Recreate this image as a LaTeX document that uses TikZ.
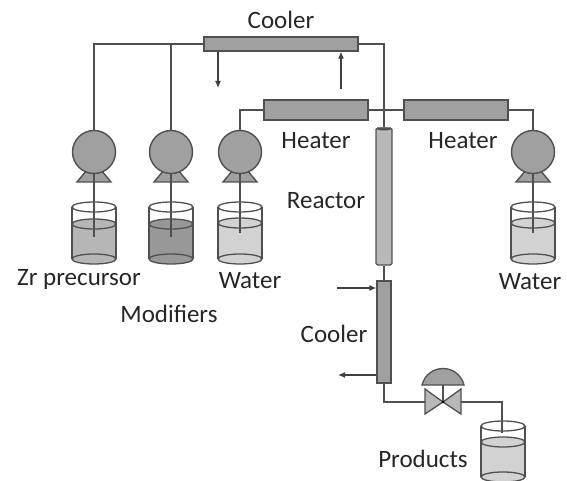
\documentclass[tikz,border=0pt]{standalone}
\usepackage{fontspec}
\setmainfont{Carlito}
\definecolor{pipegray}{HTML}{505050}
\definecolor{unitgray}{HTML}{A0A0A0}
\definecolor{reactorgray}{HTML}{B8B8B8}
\definecolor{liquidA}{HTML}{B6B6B6}
\definecolor{liquidB}{HTML}{989898}
\definecolor{liquidC}{HTML}{D2D2D2}
\tikzset{
  pipe/.style={draw=pipegray, line width=1.4pt},
  flow/.style={draw=black!75, line width=1.1pt, -{Latex[length=7pt,width=6pt]}},
  unit/.style={draw=pipegray, line width=1.4pt, fill=unitgray, inner sep=0pt},
  pumphead/.style={draw=pipegray, line width=1.4pt, fill=unitgray, circle, inner sep=0pt, minimum size=43pt},
  wall/.style={draw=pipegray, line width=1.3pt},
  label/.style={font=\fontsize{25}{25}\selectfont, text=black!85, inner sep=0pt}
}
\usetikzlibrary{arrows.meta}

\begin{document}
\begin{tikzpicture}[x=1pt, y=-1pt]
  \useasboundingbox (0,0) rectangle (567,481);

  % feed lines: pump, x, level, tube end, liquid
  \foreach \n/\x/\lev/\tube/\liq in {1/94/224/237/liquidA, 2/171/224/237/liquidB, 3/240/223/233/liquidC, 4/533/223/233/liquidC}{
    \fill[\liq] (\x-22,\lev) rectangle (\x+22,259);
    \draw[wall, fill=\liq] (\x,259) ellipse [x radius=22pt, y radius=5pt];
    \draw[wall, fill=\liq] (\x,\lev) ellipse [x radius=22pt, y radius=5pt];
    \draw[wall] (\x,207) ellipse [x radius=22pt, y radius=5pt];
    \draw[wall] (\x-22,207) -- (\x-22,259);
    \draw[wall] (\x+22,207) -- (\x+22,259);
    \draw[unit] (\x-17,182) -- (\x-7,170) -- (\x+7,170) -- (\x+17,182) -- cycle;
    \node[pumphead] (pump\n) at (\x,152) {};
    \coordinate (tube\n) at (\x,\tube);
    \draw[pipe] (pump\n.south) -- (tube\n);
  }

  \node[unit, minimum width=154pt, minimum height=14pt] (coolertop) at (281,44) {};
  \node[unit, minimum width=104pt, minimum height=20pt] (heaterleft) at (316,110) {};
  \node[unit, minimum width=104pt, minimum height=20pt] (heaterright) at (456,110) {};
  \node[unit, fill=reactorgray, minimum width=16pt, minimum height=137pt, rounded corners=1.5pt] (reactor) at (384,196.5) {};
  \fill[pipegray] (384,129) ellipse [x radius=7pt, y radius=1.5pt];
  \node[unit, minimum width=14pt, minimum height=102pt] (coolerlow) at (384,332) {};

  \draw[pipe] (pump1.north) |- (coolertop.west);
  \draw[pipe] (pump2.north) -- (pump2.north |- coolertop.west);
  \draw[pipe] (pump3.north) |- (heaterleft.west);
  \draw[pipe] (pump4.north) |- (heaterright.east);
  \draw[pipe] (heaterleft.east) -- (heaterright.west);
  \draw[pipe] (coolertop.east) -| (reactor.north);
  \draw[pipe] (reactor.south) -- (coolerlow.north);

  % utility streams
  \coordinate (coolout) at (218,88);
  \coordinate (coolin) at (341,89);
  \coordinate (lowin) at (337,288);
  \coordinate (lowout) at (338,375);
  \draw[flow] (coolout |- coolertop.south) -- (coolout);
  \draw[flow] (coolin) -- (coolin |- coolertop.south);
  \draw[flow] (lowin) -- (lowin -| coolerlow.west);
  \draw[flow] (lowout -| coolerlow.west) -- (lowout);

  % valve
  \coordinate (valve) at (443,402);
  \coordinate (valvein) at (425,402);
  \coordinate (valveout) at (461,402);
  \draw[wall, fill=reactorgray] (valve) -- (425,389) -- (425,414) -- cycle;
  \draw[wall, fill=reactorgray] (valve) -- (461,389) -- (461,414) -- cycle;
  \draw[wall, fill=unitgray] (422,385) .. controls (428,363) and (458,363) .. (464,385) -- cycle;
  \draw[pipe] (443,385) -- (valve);
  \fill[black] (valve) circle [radius=1.3];

  % product tank
  \fill[liquidC] (481,442) rectangle (525,477);
  \draw[wall, fill=liquidC] (503,477) ellipse [x radius=22pt, y radius=5pt];
  \draw[wall, fill=liquidC] (503,442) ellipse [x radius=22pt, y radius=5pt];
  \draw[wall] (503,426) ellipse [x radius=22pt, y radius=5pt];
  \draw[wall] (481,426) -- (481,477);
  \draw[wall] (525,426) -- (525,477);
  \coordinate (tube5) at (502,433);
  \draw[pipe] (coolerlow.south) |- (valvein);
  \draw[pipe] (valveout) -| (tube5);

  \node[label] (lcooltop) at (281,20) {Cooler};
  \node[label] (lheatleft) at (316,141) {Heater};
  \node[label] (lheatright) at (463,141) {Heater};
  \node[label] (lreactor) at (326,201) {Reactor};
  \node[label] (lzr) at (79,279) {Zr precursor};
  \node[label] (lwaterleft) at (250,281) {Water};
  \node[label] (lwaterright) at (530,282) {Water};
  \node[label] (lmod) at (169,314) {Modifiers};
  \node[label] (lcoollow) at (334,334) {Cooler};
  \node[label] (lprod) at (423,459) {Products};
\end{tikzpicture}
\end{document}
